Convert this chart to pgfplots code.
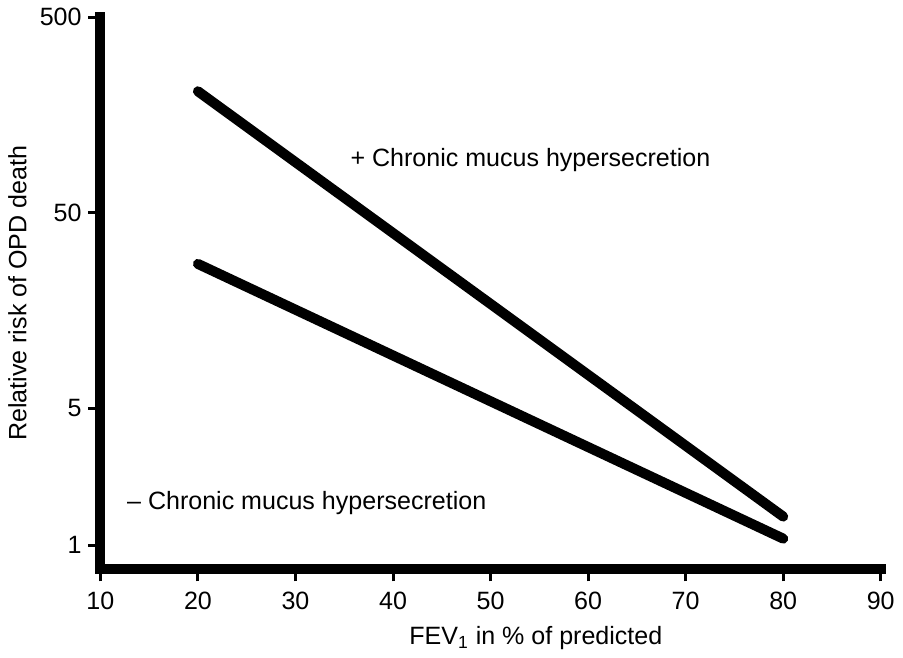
\documentclass[border=0pt]{standalone}
\usepackage{pgfplots}
\pgfplotsset{compat=1.18}
\usepackage{fontspec}
\setmainfont{Liberation Sans}
\begin{document}
\fontsize{12.5}{15}\selectfont
\begin{tikzpicture}
\begin{axis}[
  scale only axis,
  width=388bp, height=274.5bp,
  xmin=10, xmax=90,
  ymode=log, ymin=0.753, ymax=500,
  axis lines=left,
  axis line style={-, line width=5bp, line cap=rect},
  xtick={10,20,...,90},
  ytick={1,5,50,500},
  yticklabels={1,5,50,500},
  minor ytick={},
  tick style={line width=1.5bp, black},
  tick align=outside,
  major tick length=6bp,
  /pgf/number format/assume math mode=true,
  tick label style={font=\fontsize{12.5}{15}\selectfont},
  xticklabel style={yshift=-1bp},
  yticklabel style={xshift=1bp},
  xlabel={FEV\textsubscript{1} in \% of predicted},
  ylabel={Relative risk of OPD death},
  xlabel style={at={(axis description cs:0.558,0)}, anchor=north, yshift=-24bp, font=\fontsize{12.5}{15}\selectfont},
  ylabel style={font=\fontsize{12.5}{15}\selectfont, yshift=-2bp},
  clip=false,
]
\addplot[line width=5bp, line cap=round, black] coordinates {(20,209) (80,1.40)};
\addplot[line width=5bp, line cap=round, black] coordinates {(20,27.4) (80,1.08)};
\node[anchor=west, inner sep=0pt] at (axis cs:35.6,93.5) {+ Chronic mucus hypersecretion};
\node[anchor=west, inner sep=0pt] at (axis cs:12.7,1.65) {\textendash{} Chronic mucus hypersecretion};
\end{axis}
\end{tikzpicture}
\end{document}
